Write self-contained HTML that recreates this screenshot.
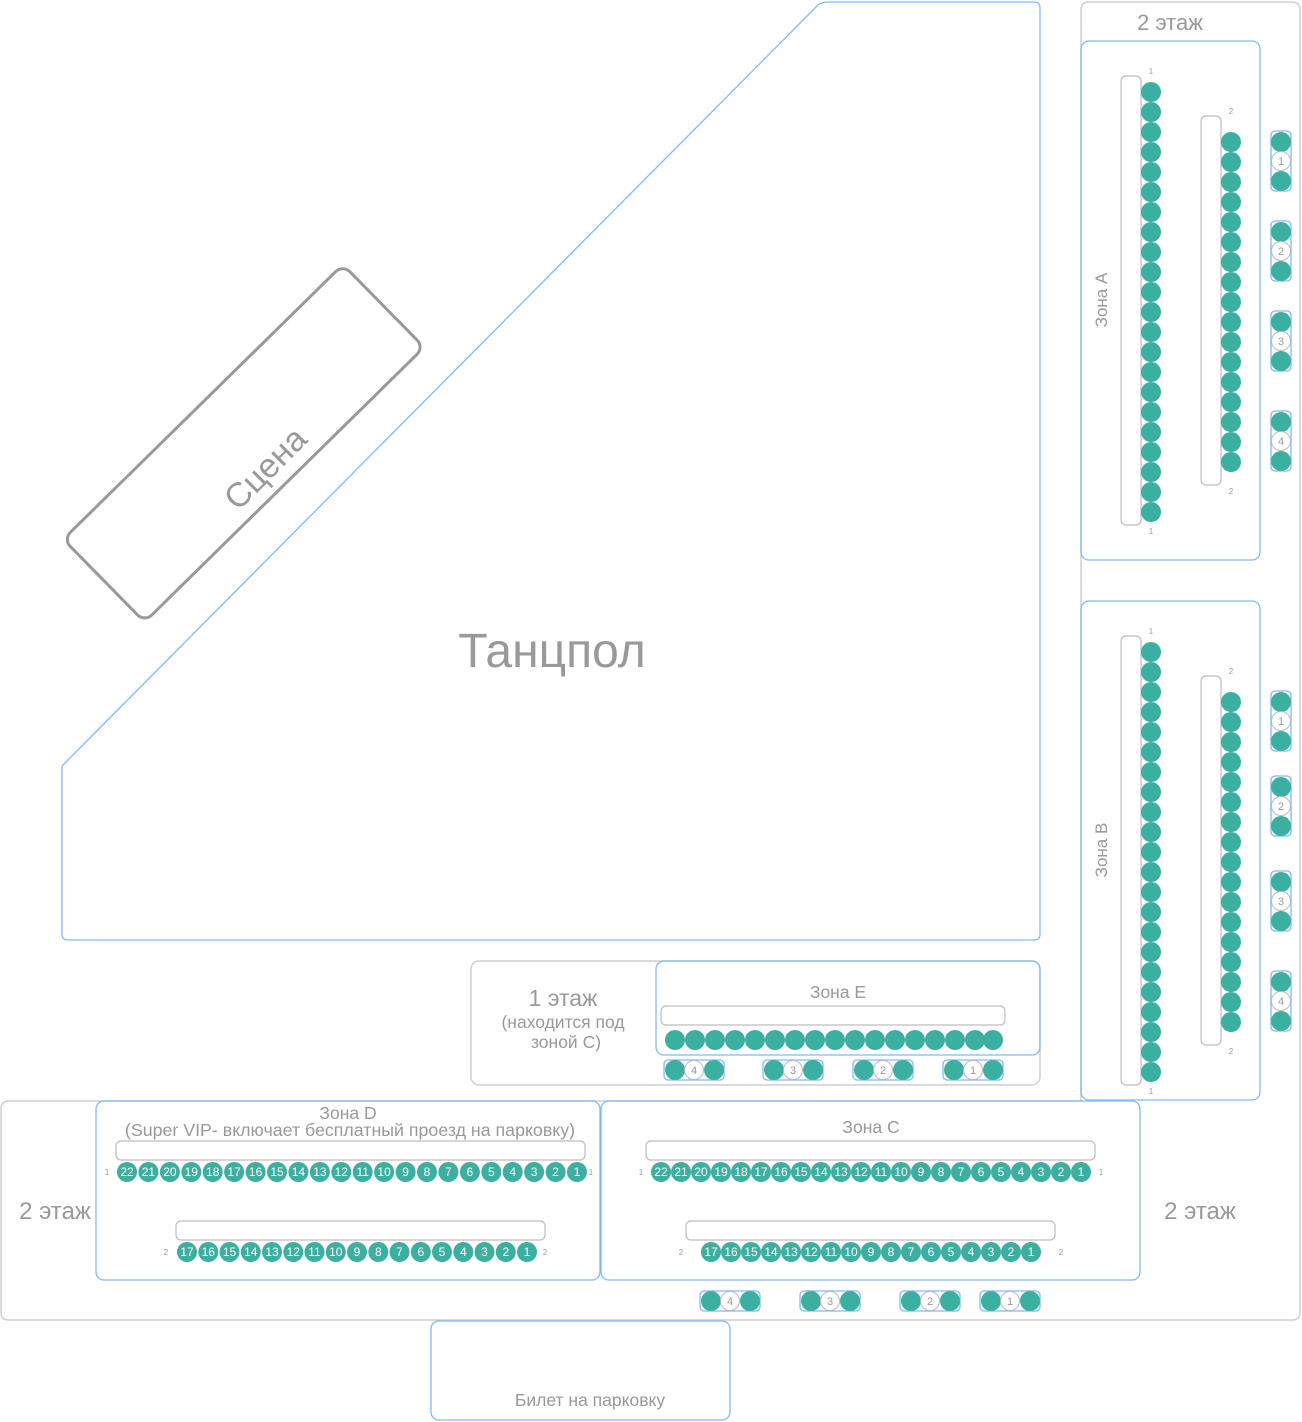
<!DOCTYPE html>
<html><head><meta charset="utf-8"><style>
html,body{margin:0;padding:0;background:#fff;}
svg{display:block;font-family:"Liberation Sans",sans-serif;}
.b{fill:none;stroke:#7fbaf0;stroke-width:1.3}
.g{fill:none;stroke:#cfcfcf;stroke-width:1.5}
.bar{fill:#fff;stroke:#bdbdbd;stroke-width:1.2}
.s{fill:#3cb0a0}
.w{fill:#fff;stroke:#bbb;stroke-width:1}
.t{fill:#999;text-anchor:middle}
.n{fill:#fff;font-size:12px;text-anchor:middle}
.l{fill:#999;font-size:8px;text-anchor:middle}
</style></head><body>
<svg width="1302" height="1422" viewBox="0 0 1302 1422" xmlns="http://www.w3.org/2000/svg">
<defs>
<g id="c22">
<circle class="s" cx="0" cy="0" r="10"/><circle class="s" cx="0" cy="20" r="10"/><circle class="s" cx="0" cy="40" r="10"/><circle class="s" cx="0" cy="60" r="10"/><circle class="s" cx="0" cy="80" r="10"/><circle class="s" cx="0" cy="100" r="10"/><circle class="s" cx="0" cy="120" r="10"/><circle class="s" cx="0" cy="140" r="10"/><circle class="s" cx="0" cy="160" r="10"/><circle class="s" cx="0" cy="180" r="10"/><circle class="s" cx="0" cy="200" r="10"/><circle class="s" cx="0" cy="220" r="10"/><circle class="s" cx="0" cy="240" r="10"/><circle class="s" cx="0" cy="260" r="10"/><circle class="s" cx="0" cy="280" r="10"/><circle class="s" cx="0" cy="300" r="10"/><circle class="s" cx="0" cy="320" r="10"/>
</g>
<g id="c5"><circle class="s" cx="0" cy="340" r="10"/><circle class="s" cx="0" cy="360" r="10"/><circle class="s" cx="0" cy="380" r="10"/><circle class="s" cx="0" cy="400" r="10"/><circle class="s" cx="0" cy="420" r="10"/></g>
<g id="gv"><rect class="b" x="-10" y="-11" width="20" height="60" rx="4"/><circle class="s" cx="0" cy="0" r="10"/><circle class="w" cx="0" cy="19" r="9.5"/><circle class="s" cx="0" cy="39" r="10"/></g>
<g id="gh"><rect class="b" x="-11" y="-10" width="60" height="20" rx="4"/><circle class="s" cx="0" cy="0" r="10"/><circle class="w" cx="19" cy="0" r="9.5"/><circle class="s" cx="39" cy="0" r="10"/></g>
</defs>

<path class="g" d="M1089,2 H1292 Q1300,2 1300,10 V1312 Q1300,1320 1292,1320 H9 Q1,1320 1,1312 V1109 Q1,1101 9,1101 H1081 V10 Q1081,2 1089,2 Z"/>
<path class="b" d="M62,766 L818,5 Q822,2 828,2 H1034 Q1040,2 1040,8 V934 Q1040,940 1034,940 H68 Q62,940 62,934 Z"/>
<rect x="48" y="386" width="392" height="116" rx="10" fill="none" stroke="#999" stroke-width="3" transform="rotate(-44.5 243 444)"/>
<text class="t" x="265" y="480" font-size="34" transform="rotate(-45 265 468)">Сцена</text>
<text class="t" x="552" y="667" font-size="48">Танцпол</text>

<text class="t" x="1170" y="30" font-size="22">2 этаж</text>

<rect class="b" x="1081" y="41" width="179" height="519" rx="8"/>
<text class="t" x="1107" y="300" font-size="17" transform="rotate(-90 1107 300)">Зона А</text>
<rect class="bar" x="1121" y="76" width="20" height="449" rx="5"/>
<rect class="bar" x="1201" y="116" width="20" height="369" rx="5"/>
<use href="#c22" x="1151" y="92"/><use href="#c5" x="1151" y="92"/>
<use href="#c22" x="1231" y="142"/>
<text class="l" x="1151" y="74">1</text><text class="l" x="1151" y="534">1</text>
<text class="l" x="1231" y="114">2</text><text class="l" x="1231" y="494">2</text>
<use href="#gv" x="1281" y="142"/><use href="#gv" x="1281" y="232"/><use href="#gv" x="1281" y="322"/><use href="#gv" x="1281" y="422"/>
<g class="t" font-size="11"><text x="1281" y="165">1</text><text x="1281" y="255">2</text><text x="1281" y="345">3</text><text x="1281" y="445">4</text></g>

<rect class="b" x="1081" y="601" width="179" height="499" rx="8"/>
<text class="t" x="1107" y="850" font-size="17" transform="rotate(-90 1107 850)">Зона В</text>
<rect class="bar" x="1121" y="636" width="20" height="449" rx="5"/>
<rect class="bar" x="1201" y="676" width="20" height="369" rx="5"/>
<use href="#c22" x="1151" y="652"/><use href="#c5" x="1151" y="652"/>
<use href="#c22" x="1231" y="702"/>
<text class="l" x="1151" y="634">1</text><text class="l" x="1151" y="1094">1</text>
<text class="l" x="1231" y="674">2</text><text class="l" x="1231" y="1054">2</text>
<use href="#gv" x="1281" y="702"/><use href="#gv" x="1281" y="787"/><use href="#gv" x="1281" y="882"/><use href="#gv" x="1281" y="982"/>
<g class="t" font-size="11"><text x="1281" y="725">1</text><text x="1281" y="810">2</text><text x="1281" y="905">3</text><text x="1281" y="1005">4</text></g>

<rect class="g" x="471" y="961" width="569" height="124" rx="8"/>
<text class="t" x="563" y="1006" font-size="23">1 этаж</text>
<text class="t" x="563" y="1028" font-size="17.5">(находится под</text>
<text class="t" x="566" y="1048" font-size="17.5">зоной С)</text>
<rect class="b" x="656" y="961" width="384" height="94" rx="8"/>
<text class="t" x="838" y="998" font-size="17.5">Зона E</text>
<rect class="bar" x="661" y="1006" width="344" height="19" rx="5"/>
<g transform="translate(675,1040)">
<circle class="s" cx="0" r="10"/><circle class="s" cx="20" r="10"/><circle class="s" cx="40" r="10"/><circle class="s" cx="60" r="10"/><circle class="s" cx="80" r="10"/><circle class="s" cx="100" r="10"/><circle class="s" cx="120" r="10"/><circle class="s" cx="140" r="10"/><circle class="s" cx="160" r="10"/><circle class="s" cx="180" r="10"/><circle class="s" cx="200" r="10"/><circle class="s" cx="220" r="10"/><circle class="s" cx="240" r="10"/><circle class="s" cx="260" r="10"/><circle class="s" cx="280" r="10"/><circle class="s" cx="300" r="10"/><circle class="s" cx="318" r="10"/>
</g>
<use href="#gh" x="675" y="1070"/><use href="#gh" x="774" y="1070"/><use href="#gh" x="864" y="1070"/><use href="#gh" x="954" y="1070"/>
<g class="t" font-size="11"><text x="694" y="1074">4</text><text x="793" y="1074">3</text><text x="883" y="1074">2</text><text x="973" y="1074">1</text></g>

<text class="t" x="55" y="1219" font-size="24">2 этаж</text>
<text class="t" x="1200" y="1219" font-size="24">2 этаж</text>

<rect class="b" x="96" y="1101" width="504" height="179" rx="8"/>
<text class="t" x="348" y="1119" font-size="17.5">Зона D</text>
<text class="t" x="350" y="1136" font-size="17.8">(Super VIP- включает бесплатный проезд на парковку)</text>
<rect class="bar" x="116" y="1141" width="469" height="19" rx="5"/>
<rect class="bar" x="176" y="1221" width="369" height="19" rx="5"/>
<text class="l" x="107" y="1175">1</text><text class="l" x="591" y="1175">1</text>
<text class="l" x="166" y="1255">2</text><text class="l" x="545" y="1255">2</text>
<g>
<circle class="s" cx="127" cy="1172" r="10"/><circle class="s" cx="148.4" cy="1172" r="10"/><circle class="s" cx="169.9" cy="1172" r="10"/><circle class="s" cx="191.3" cy="1172" r="10"/><circle class="s" cx="212.7" cy="1172" r="10"/><circle class="s" cx="234.1" cy="1172" r="10"/><circle class="s" cx="255.6" cy="1172" r="10"/><circle class="s" cx="277" cy="1172" r="10"/><circle class="s" cx="298.4" cy="1172" r="10"/><circle class="s" cx="319.9" cy="1172" r="10"/><circle class="s" cx="341.3" cy="1172" r="10"/><circle class="s" cx="362.7" cy="1172" r="10"/><circle class="s" cx="384.1" cy="1172" r="10"/><circle class="s" cx="405.6" cy="1172" r="10"/><circle class="s" cx="427" cy="1172" r="10"/><circle class="s" cx="448.4" cy="1172" r="10"/><circle class="s" cx="469.9" cy="1172" r="10"/><circle class="s" cx="491.3" cy="1172" r="10"/><circle class="s" cx="512.7" cy="1172" r="10"/><circle class="s" cx="534.1" cy="1172" r="10"/><circle class="s" cx="555.6" cy="1172" r="10"/><circle class="s" cx="577" cy="1172" r="10"/>
</g>
<g class="n">
<text x="127" y="1176">22</text><text x="148.4" y="1176">21</text><text x="169.9" y="1176">20</text><text x="191.3" y="1176">19</text><text x="212.7" y="1176">18</text><text x="234.1" y="1176">17</text><text x="255.6" y="1176">16</text><text x="277" y="1176">15</text><text x="298.4" y="1176">14</text><text x="319.9" y="1176">13</text><text x="341.3" y="1176">12</text><text x="362.7" y="1176">11</text><text x="384.1" y="1176">10</text><text x="405.6" y="1176">9</text><text x="427" y="1176">8</text><text x="448.4" y="1176">7</text><text x="469.9" y="1176">6</text><text x="491.3" y="1176">5</text><text x="512.7" y="1176">4</text><text x="534.1" y="1176">3</text><text x="555.6" y="1176">2</text><text x="577" y="1176">1</text>
</g>
<g>
<circle class="s" cx="187" cy="1252" r="10"/><circle class="s" cx="208.3" cy="1252" r="10"/><circle class="s" cx="229.5" cy="1252" r="10"/><circle class="s" cx="250.8" cy="1252" r="10"/><circle class="s" cx="272" cy="1252" r="10"/><circle class="s" cx="293.3" cy="1252" r="10"/><circle class="s" cx="314.5" cy="1252" r="10"/><circle class="s" cx="335.8" cy="1252" r="10"/><circle class="s" cx="357" cy="1252" r="10"/><circle class="s" cx="378.3" cy="1252" r="10"/><circle class="s" cx="399.5" cy="1252" r="10"/><circle class="s" cx="420.8" cy="1252" r="10"/><circle class="s" cx="442" cy="1252" r="10"/><circle class="s" cx="463.3" cy="1252" r="10"/><circle class="s" cx="484.5" cy="1252" r="10"/><circle class="s" cx="505.8" cy="1252" r="10"/><circle class="s" cx="527" cy="1252" r="10"/>
</g>
<g class="n">
<text x="187" y="1256">17</text><text x="208.3" y="1256">16</text><text x="229.5" y="1256">15</text><text x="250.8" y="1256">14</text><text x="272" y="1256">13</text><text x="293.3" y="1256">12</text><text x="314.5" y="1256">11</text><text x="335.8" y="1256">10</text><text x="357" y="1256">9</text><text x="378.3" y="1256">8</text><text x="399.5" y="1256">7</text><text x="420.8" y="1256">6</text><text x="442" y="1256">5</text><text x="463.3" y="1256">4</text><text x="484.5" y="1256">3</text><text x="505.8" y="1256">2</text><text x="527" y="1256">1</text>
</g>

<rect class="b" x="601" y="1101" width="539" height="179" rx="8"/>
<text class="t" x="871" y="1133" font-size="17.5">Зона C</text>
<rect class="bar" x="646" y="1141" width="449" height="19" rx="5"/>
<rect class="bar" x="686" y="1221" width="369" height="19" rx="5"/>
<text class="l" x="641" y="1175">1</text><text class="l" x="1101" y="1175">1</text>
<text class="l" x="681" y="1255">2</text><text class="l" x="1061" y="1255">2</text>
<g>
<circle class="s" cx="661" cy="1172" r="10"/><circle class="s" cx="681" cy="1172" r="10"/><circle class="s" cx="701" cy="1172" r="10"/><circle class="s" cx="721" cy="1172" r="10"/><circle class="s" cx="741" cy="1172" r="10"/><circle class="s" cx="761" cy="1172" r="10"/><circle class="s" cx="781" cy="1172" r="10"/><circle class="s" cx="801" cy="1172" r="10"/><circle class="s" cx="821" cy="1172" r="10"/><circle class="s" cx="841" cy="1172" r="10"/><circle class="s" cx="861" cy="1172" r="10"/><circle class="s" cx="881" cy="1172" r="10"/><circle class="s" cx="901" cy="1172" r="10"/><circle class="s" cx="921" cy="1172" r="10"/><circle class="s" cx="941" cy="1172" r="10"/><circle class="s" cx="961" cy="1172" r="10"/><circle class="s" cx="981" cy="1172" r="10"/><circle class="s" cx="1001" cy="1172" r="10"/><circle class="s" cx="1021" cy="1172" r="10"/><circle class="s" cx="1041" cy="1172" r="10"/><circle class="s" cx="1061" cy="1172" r="10"/><circle class="s" cx="1081" cy="1172" r="10"/>
</g>
<g class="n">
<text x="661" y="1176">22</text><text x="681" y="1176">21</text><text x="701" y="1176">20</text><text x="721" y="1176">19</text><text x="741" y="1176">18</text><text x="761" y="1176">17</text><text x="781" y="1176">16</text><text x="801" y="1176">15</text><text x="821" y="1176">14</text><text x="841" y="1176">13</text><text x="861" y="1176">12</text><text x="881" y="1176">11</text><text x="901" y="1176">10</text><text x="921" y="1176">9</text><text x="941" y="1176">8</text><text x="961" y="1176">7</text><text x="981" y="1176">6</text><text x="1001" y="1176">5</text><text x="1021" y="1176">4</text><text x="1041" y="1176">3</text><text x="1061" y="1176">2</text><text x="1081" y="1176">1</text>
</g>
<g>
<circle class="s" cx="711" cy="1252" r="10"/><circle class="s" cx="731" cy="1252" r="10"/><circle class="s" cx="751" cy="1252" r="10"/><circle class="s" cx="771" cy="1252" r="10"/><circle class="s" cx="791" cy="1252" r="10"/><circle class="s" cx="811" cy="1252" r="10"/><circle class="s" cx="831" cy="1252" r="10"/><circle class="s" cx="851" cy="1252" r="10"/><circle class="s" cx="871" cy="1252" r="10"/><circle class="s" cx="891" cy="1252" r="10"/><circle class="s" cx="911" cy="1252" r="10"/><circle class="s" cx="931" cy="1252" r="10"/><circle class="s" cx="951" cy="1252" r="10"/><circle class="s" cx="971" cy="1252" r="10"/><circle class="s" cx="991" cy="1252" r="10"/><circle class="s" cx="1011" cy="1252" r="10"/><circle class="s" cx="1031" cy="1252" r="10"/>
</g>
<g class="n">
<text x="711" y="1256">17</text><text x="731" y="1256">16</text><text x="751" y="1256">15</text><text x="771" y="1256">14</text><text x="791" y="1256">13</text><text x="811" y="1256">12</text><text x="831" y="1256">11</text><text x="851" y="1256">10</text><text x="871" y="1256">9</text><text x="891" y="1256">8</text><text x="911" y="1256">7</text><text x="931" y="1256">6</text><text x="951" y="1256">5</text><text x="971" y="1256">4</text><text x="991" y="1256">3</text><text x="1011" y="1256">2</text><text x="1031" y="1256">1</text>
</g>
<use href="#gh" x="711" y="1301"/><use href="#gh" x="811" y="1301"/><use href="#gh" x="911" y="1301"/><use href="#gh" x="991" y="1301"/>
<g class="t" font-size="11"><text x="730" y="1305">4</text><text x="830" y="1305">3</text><text x="930" y="1305">2</text><text x="1010" y="1305">1</text></g>

<rect class="b" x="431" y="1321" width="299" height="99" rx="8"/>
<text class="t" x="590" y="1406" font-size="17.5">Билет на парковку</text>
</svg>
</body></html>
